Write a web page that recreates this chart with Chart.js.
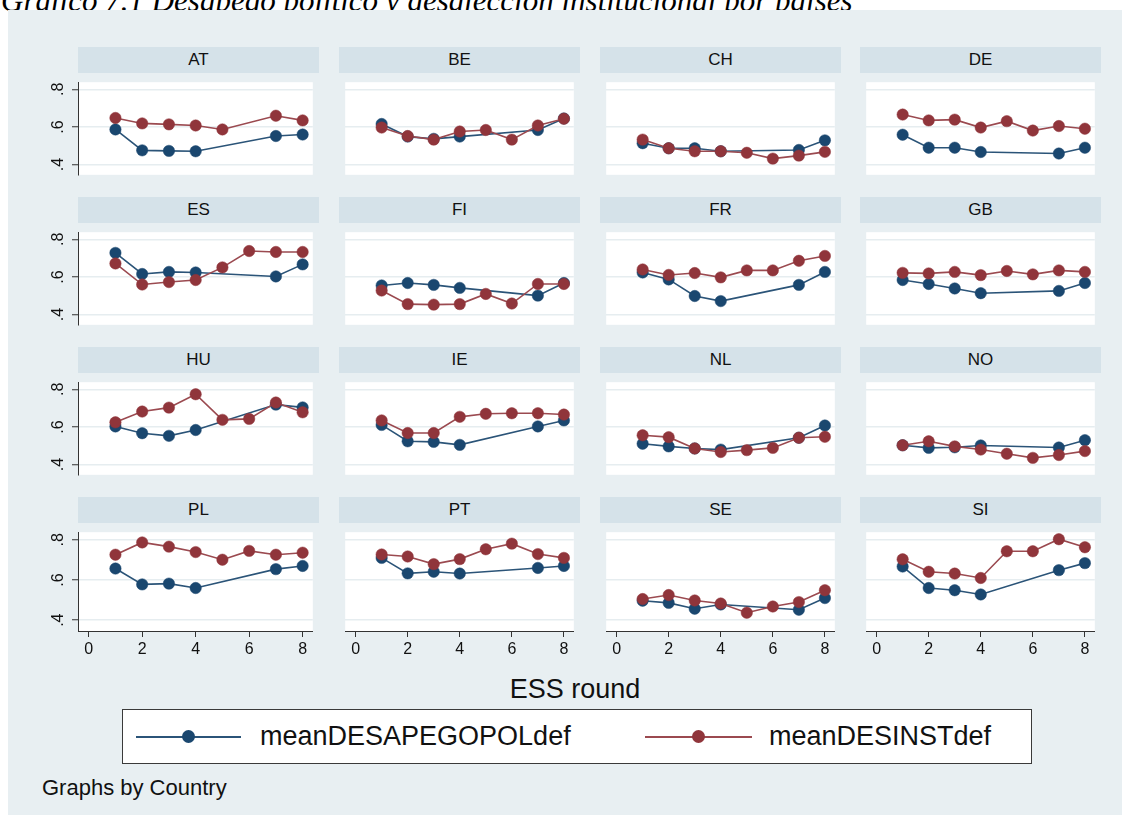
<!DOCTYPE html>
<html>
<head>
<meta charset="utf-8">
<title>Desapego político y desafección institucional por países</title>
<script src="https://cdn.jsdelivr.net/npm/chart.js@4.4.1/dist/chart.umd.min.js"></script>
<style>
  body {
    margin: 0;
    width: 1130px;
    height: 827px;
    overflow: hidden;
    position: relative;
    background: #fff;
    font-family: "Liberation Sans", Arial, sans-serif;
    color: #111;
  }
  #title {
    position: absolute;
    left: 1px;
    top: -15px;
    font: italic 31px/31px "Liberation Serif", "Times New Roman", serif;
    color: #000;
    white-space: nowrap;
    z-index: 0;
  }
  #figure {
    position: absolute;
    left: 8px;
    top: 10px;
    width: 1114px;
    height: 805px;
    background: #e8eff2;
    z-index: 1;
  }
  .strip {
    position: absolute;
    background: #d5e2e9;
    text-align: center;
    font-size: 17px;
    height: 26px;
    line-height: 26px;
    z-index: 2;
  }
  canvas { position: absolute; z-index: 3; }
  #xtitle {
    position: absolute;
    left: 425px;
    width: 300px;
    top: 673px;
    text-align: center;
    font-size: 27px;
    line-height: 32px;
    z-index: 2;
  }
  #legend {
    position: absolute;
    left: 122px;
    top: 709px;
    width: 908px;
    height: 53px;
    background: #fff;
    border: 1.5px solid #3a3a3a;
    z-index: 2;
  }
  .key { position: absolute; top: 0; height: 53px; }
  .key .line { position: absolute; top: 26px; height: 2px; }
  .key .dot { position: absolute; top: 20px; width: 13px; height: 13px; border-radius: 50%; }
  .key .label { position: absolute; top: 10px; font-size: 27px; line-height: 32px; white-space: nowrap; }
  #note {
    position: absolute;
    left: 42px;
    top: 775px;
    font-size: 22px;
    line-height: 26px;
    z-index: 2;
  }
</style>
</head>
<body>
<div id="title">Gráfico 7.1 Desapego político y desafección institucional por países</div>
<div id="figure"></div>
<div id="xtitle">ESS round</div>
<div id="legend">
  <div class="key" style="left:13px">
    <div class="line" style="left:0;width:105px;background:#2b5478"></div>
    <div class="dot" style="left:46px;background:#1a476f"></div>
    <div class="label" style="left:124px">meanDESAPEGOPOLdef</div>
  </div>
  <div class="key" style="left:522px">
    <div class="line" style="left:0;width:107px;background:#9b4a50"></div>
    <div class="dot" style="left:47px;background:#90353b"></div>
    <div class="label" style="left:124px">meanDESINSTdef</div>
  </div>
</div>
<div id="note">Graphs by Country</div>

<script>
// panels, in the order they are laid out (4 x 4)
const countries = ["AT", "BE", "CH", "DE", "ES", "FI", "FR", "GB",
                   "HU", "IE", "NL", "NO", "PL", "PT", "SE", "SI"];

// ESS rounds with a value for each series
const roundsPol = [1, 2, 3, 4, 7, 8];
const roundsInst = [1, 2, 3, 4, 5, 6, 7, 8];

// meanDESAPEGOPOLdef, one row per country (rounds 1-4, 7, 8)
const desapegoPol = [
  [0.587, 0.476, 0.473, 0.471, 0.552, 0.560], // AT
  [0.616, 0.549, 0.537, 0.549, 0.584, 0.645], // BE
  [0.514, 0.487, 0.487, 0.471, 0.478, 0.529], // CH
  [0.559, 0.490, 0.490, 0.467, 0.459, 0.490], // DE
  [0.728, 0.616, 0.627, 0.624, 0.603, 0.667], // ES
  [0.555, 0.568, 0.558, 0.542, 0.501, 0.568], // FI
  [0.624, 0.587, 0.499, 0.472, 0.558, 0.627], // FR
  [0.584, 0.563, 0.539, 0.514, 0.526, 0.568], // GB
  [0.603, 0.567, 0.553, 0.584, 0.719, 0.704], // HU
  [0.611, 0.524, 0.521, 0.505, 0.603, 0.635], // IE
  [0.511, 0.497, 0.486, 0.480, 0.543, 0.608], // NL
  [0.503, 0.489, 0.492, 0.502, 0.491, 0.530], // NO
  [0.657, 0.578, 0.582, 0.560, 0.654, 0.670], // PL
  [0.710, 0.633, 0.641, 0.632, 0.660, 0.670], // PT
  [0.497, 0.486, 0.457, 0.478, 0.452, 0.510], // SE
  [0.667, 0.560, 0.549, 0.528, 0.649, 0.684]  // SI
];

// meanDESINSTdef, one row per country (rounds 1-8, null = not surveyed)
const desInst = [
  [0.648, 0.619, 0.614, 0.608, 0.587, null, 0.660, 0.635], // AT
  [0.597, 0.552, 0.533, 0.576, 0.584, 0.533, 0.608, 0.644], // BE
  [0.533, 0.487, 0.471, 0.471, 0.463, 0.432, 0.448, 0.468], // CH
  [0.666, 0.635, 0.639, 0.597, 0.631, 0.581, 0.605, 0.591], // DE
  [0.672, 0.560, 0.573, 0.584, 0.651, 0.738, 0.733, 0.733], // ES
  [0.528, 0.456, 0.453, 0.456, 0.510, 0.459, 0.563, 0.563], // FI
  [0.640, 0.611, 0.621, 0.598, 0.635, 0.635, 0.686, 0.712], // FR
  [0.622, 0.619, 0.627, 0.610, 0.632, 0.614, 0.635, 0.627], // GB
  [0.625, 0.682, 0.703, 0.774, 0.638, 0.643, 0.730, 0.678], // HU
  [0.635, 0.568, 0.568, 0.654, 0.670, 0.673, 0.673, 0.666], // IE
  [0.556, 0.546, 0.486, 0.467, 0.477, 0.489, 0.543, 0.548], // NL
  [0.503, 0.524, 0.497, 0.480, 0.458, 0.436, 0.451, 0.472], // NO
  [0.726, 0.787, 0.766, 0.739, 0.701, 0.745, 0.726, 0.736], // PL
  [0.727, 0.717, 0.679, 0.704, 0.753, 0.781, 0.729, 0.710], // PT
  [0.505, 0.525, 0.498, 0.483, 0.437, 0.468, 0.490, 0.549], // SE
  [0.703, 0.641, 0.632, 0.610, 0.743, 0.743, 0.803, 0.763]  // SI
];

// axis ticks
const xTicks = [0, 2, 4, 6, 8];
const yTicks = [0.4, 0.6, 0.8];
const yTickLabels = [".4", ".6", ".8"];

// panel grid (plot areas only)
const colLeft = [78, 339, 600, 860];
const rowTop = [75.5, 225.5, 375.5, 525.5];
const plotW = 241;
const plotH = 105;
const yAxisW = 40;   // room for y ticks on the first column
const xAxisH = 32;   // room for x ticks on the last row

const FONT = '"Liberation Sans", Arial, sans-serif';
const BLUE = "#1a476f";
const RED = "#90353b";

// white plot region behind the lines
const plotBackground = {
  id: "plotBackground",
  beforeDraw(chart) {
    const { ctx, chartArea: a } = chart;
    ctx.save();
    ctx.fillStyle = "#fff";
    ctx.fillRect(a.left, a.top, a.right - a.left, a.bottom - a.top);
    ctx.restore();
  }
};

// vertical y labels, Stata style (read bottom to top)
const rotatedYLabels = {
  id: "rotatedYLabels",
  afterDraw(chart, args, opts) {
    if (!opts.show) return;
    const { ctx } = chart;
    const yScale = chart.scales.y;
    ctx.save();
    ctx.font = "16px " + FONT;
    ctx.fillStyle = "#111";
    ctx.textAlign = "center";
    ctx.textBaseline = "middle";
    yTicks.forEach((v, i) => {
      ctx.save();
      ctx.translate(yScale.left + 20, yScale.getPixelForValue(v));
      ctx.rotate(-Math.PI / 2);
      ctx.fillText(yTickLabels[i], 0, 1);
      ctx.restore();
    });
    ctx.restore();
  }
};

countries.forEach((country, k) => {
  const row = Math.floor(k / 4);
  const col = k % 4;
  const leftCol = col === 0;
  const bottomRow = row === 3;

  // strip with the country code
  const strip = document.createElement("div");
  strip.className = "strip";
  strip.style.left = colLeft[col] + "px";
  strip.style.top = (rowTop[row] - 28.5) + "px";
  strip.style.width = plotW + "px";
  strip.textContent = country;
  document.body.appendChild(strip);

  const canvas = document.createElement("canvas");
  const w = plotW + (leftCol ? yAxisW : 0);
  const h = plotH + (bottomRow ? xAxisH : 0);
  canvas.width = w;
  canvas.height = h;
  canvas.style.width = w + "px";
  canvas.style.height = h + "px";
  canvas.style.left = (colLeft[col] - (leftCol ? yAxisW : 0)) + "px";
  canvas.style.top = rowTop[row] + "px";
  document.body.appendChild(canvas);

  const polPoints = roundsPol.map((r, i) => ({ x: r, y: desapegoPol[k][i] }));
  const instPoints = roundsInst
    .map((r, i) => ({ x: r, y: desInst[k][i] }))
    .filter(p => p.y !== null);

  new Chart(canvas.getContext("2d"), {
    type: "line",
    data: {
      datasets: [
        {
          label: "meanDESAPEGOPOLdef",
          data: polPoints,
          order: 1,
          borderColor: "#2b5478",
          borderWidth: 1.6,
          pointRadius: 5.7,
          pointBackgroundColor: BLUE,
          pointBorderColor: BLUE,
          pointBorderWidth: 0.5,
          tension: 0
        },
        {
          label: "meanDESINSTdef",
          data: instPoints,
          order: 0,
          borderColor: "#9b4a50",
          borderWidth: 1.6,
          pointRadius: 5.7,
          pointBackgroundColor: RED,
          pointBorderColor: RED,
          pointBorderWidth: 0.5,
          tension: 0
        }
      ]
    },
    options: {
      responsive: false,
      animation: false,
      events: [],
      devicePixelRatio: 1,
      layout: { padding: 0 },
      plugins: {
        legend: { display: false },
        tooltip: { enabled: false },
        rotatedYLabels: { show: leftCol }
      },
      scales: {
        x: {
          type: "linear",
          min: -0.4,
          max: 8.38,
          afterBuildTicks: s => { s.ticks = xTicks.map(v => ({ value: v })); },
          afterFit: s => { s.height = bottomRow ? xAxisH : 0; },
          grid: {
            display: bottomRow,
            drawOnChartArea: false,
            drawTicks: true,
            tickLength: 6,
            tickColor: "#333",
            tickWidth: 1
          },
          border: { display: bottomRow, color: "#333", width: 1 },
          ticks: {
            display: bottomRow,
            padding: 3,
            maxRotation: 0,
            minRotation: 0,
            color: "#111",
            font: { family: FONT, size: 16 }
          }
        },
        y: {
          type: "linear",
          min: 0.346,
          max: 0.838,
          afterBuildTicks: s => { s.ticks = yTicks.map(v => ({ value: v })); },
          afterFit: s => { s.width = leftCol ? yAxisW : 0; },
          grid: {
            color: "#e6edf0",
            lineWidth: 1.5,
            drawTicks: leftCol,
            tickLength: 6,
            tickColor: "#333",
            tickWidth: 1
          },
          border: { display: leftCol, color: "#333", width: 1 },
          ticks: { display: false }
        }
      }
    },
    plugins: [plotBackground, rotatedYLabels]
  });
});
</script>
</body>
</html>
